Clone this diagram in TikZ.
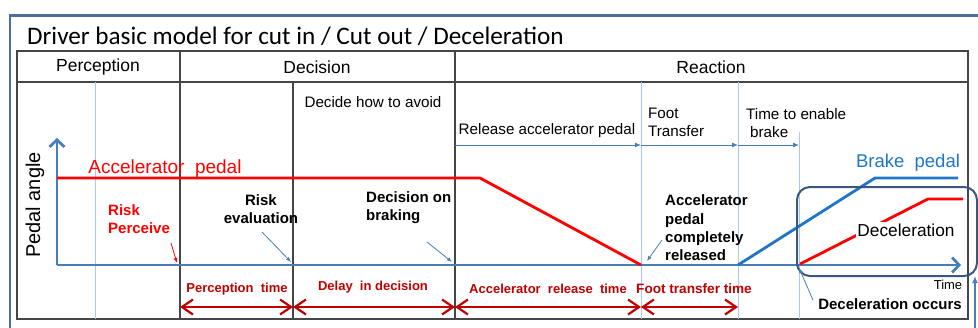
\documentclass[tikz,border=0pt]{standalone}
\usepackage{fontspec}
\setmainfont{Liberation Sans}
\newfontfamily\titlefont{Carlito}
\usetikzlibrary{arrows.meta}

\definecolor{frameblue}{RGB}{79,110,160}
\definecolor{axisblue}{RGB}{74,126,187}
\definecolor{guideblue}{RGB}{170,200,236}
\definecolor{brakeblue}{RGB}{30,118,200}
\definecolor{accred}{RGB}{255,0,0}
\definecolor{timered}{RGB}{192,0,0}
\definecolor{gridgray}{RGB}{70,70,70}
\definecolor{boxslate}{RGB}{60,86,124}

\tikzset{
  grid/.style={draw=gridgray, line width=1.4pt},
  guide/.style={draw=guideblue, line width=1pt},
  axis/.style={draw=axisblue, line width=2.8pt},
  phasearrow/.style={draw=axisblue, line width=0.9pt, -{Latex[length=6pt,width=5pt]}},
  note/.style={draw=axisblue, line width=0.8pt, -{Latex[length=5pt,width=4pt]}},
  timebar/.style={draw=timered, line width=2.2pt, {Straight Barb[length=11pt,width=15pt]}-{Straight Barb[length=11pt,width=15pt]}},
  head/.style={font=\fontsize{17.5}{20}\selectfont, inner sep=0pt},
  small/.style={font=\fontsize{15.2}{18}\selectfont, inner sep=0pt},
  boldlbl/.style={font=\bfseries\fontsize{15}{18.3}\selectfont, inner sep=0pt},
  timelbl/.style={font=\bfseries\fontsize{13}{15}\selectfont, text=timered, inner sep=0pt},
  curvelbl/.style={font=\fontsize{19}{21}\selectfont, inner sep=0pt},
}

\begin{document}
\begin{tikzpicture}[x=1pt,y=-1pt]
\useasboundingbox (0,0) rectangle (978,327);
\clip (0,0) rectangle (978,327);

% outer frame
\draw[frameblue, line width=2.6pt] (10,15.5) rectangle (1000,345);

% title
\node[anchor=base west, inner sep=0pt, font=\titlefont\fontsize{25.2}{28}\selectfont] (title) at (27,44.5)
  {Driver basic model for cut in / Cut out / Deceleration};

% table grid
\draw[grid] (17,51) rectangle (968,319);
\draw[grid] (17,82) -- (968,82);
\draw[grid] (180,51) -- (180,319);
\draw[grid] (455,51) -- (455,319);
\draw[grid] (293,82) -- (293,319);

% light guide lines
\draw[guide] (95,82) -- (95,319);
\draw[guide] (641,82) -- (641,319);
\draw[guide] (738,82) -- (738,319);
\draw[guide] (799,132) -- (799,319);

% phase headers
\node[head] (hperc) at (98,67) {Perception};
\node[head] (hdec)  at (317,67) {Decision};
\node[head] (hreac) at (711,67) {Reaction};

% sub-phase labels
\node[small] (avoid) at (373,102) {Decide how to avoid};
\node[small] (release) at (547,131) {Release accelerator pedal};
\node[small, align=left, anchor=north west] (foot) at (648,107.5) {Foot\\Transfer};
\node[small, align=left, anchor=north west] (enable) at (746,108) {Time to enable\\\hspace{4pt}brake};

\coordinate (p0) at (455,145);
\coordinate (p1) at (641,145);
\coordinate (p2) at (738,145);
\coordinate (p3) at (799,145);
\draw[phasearrow] (p0) -- (p1);
\draw[phasearrow] (p1) -- (p2);
\draw[phasearrow] (p2) -- (p3);

% axes
\coordinate (orig) at (57,265);
\coordinate (ytop) at (57,138);
\coordinate (xend) at (961,265);
\draw[axis, -{Straight Barb[length=7pt,width=15pt]}] (orig) -- (ytop);
\draw[axis, -{Straight Barb[length=7pt,width=15pt]}] (orig) -- (xend);
\node[font=\fontsize{20}{22}\selectfont, rotate=90, inner sep=0pt] (ylabel) at (35,205) {Pedal angle};
\node[font=\fontsize{13}{15}\selectfont, inner sep=0pt] (timelabel) at (948,285) {Time};

% accelerator pedal curve
\coordinate (a0) at (57,178);
\coordinate (a1) at (480,178);
\coordinate (a2) at (641,265);
\draw[accred, line width=2.8pt] (a0) -- (a1) -- (a2);
\node[curvelbl, text=accred] (acclbl) at (165,169) {Accelerator\ \ pedal};

% brake pedal curve
\coordinate (b0) at (738,265);
\coordinate (b1) at (875,178);
\coordinate (b2) at (958,178);
\draw[brakeblue, line width=2.8pt] (b0) -- (b1) -- (b2);
\node[curvelbl, font=\fontsize{18.5}{20}\selectfont, text=brakeblue] (brakelbl) at (908,163) {Brake\ \ pedal};

% deceleration curve and box
\coordinate (d0) at (800,264);
\coordinate (d1) at (928,199);
\coordinate (d2) at (963,199);
\draw[accred, line width=2.8pt] (d0) -- (d1) -- (d2);
\node[font=\fontsize{17.3}{20}\selectfont, fill=white, inner sep=1.5pt] (declbl) at (906,230) {Deceleration};
\node[draw=boxslate, line width=2pt, rounded corners=13pt, minimum width=180pt, minimum height=89pt] (decbox) at (887,231.5) {};

% event labels with pointers
\node[boldlbl, text=accred, align=left, anchor=west, fill=white, inner sep=1pt] (risk) at (107,219) {Risk\\Perceive};
\coordinate (riskpt) at (177,263);
\draw[accred, line width=0.8pt, -{Latex[length=5pt,width=4pt]}] (171,243) -- (riskpt);

\node[boldlbl, align=center] (evallbl) at (261,209) {Risk\\evaluation};
\coordinate (evalpt) at (291,262);
\draw[note] (262,232) -- (evalpt);

\node[boldlbl, align=left, anchor=west] (decision) at (366,208) {Decision on\\braking};
\coordinate (decpt) at (452,262);
\draw[note] (427,242) -- (decpt);

\node[boldlbl, align=left, anchor=west] (released) at (665,228) {Accelerator\\pedal\\completely\\released};
\coordinate (relpt) at (647,261);
\draw[note] (662,240) -- (relpt);

\node[boldlbl] (occurs) at (890,304) {Deceleration occurs};
\coordinate (occpt) at (799,268);
\draw[note] (813,300) -- (occpt);

% bottom-right pointer
\coordinate (brtail) at (975,332);
\coordinate (brtip) at (975,276);
\draw[draw=axisblue, line width=1.5pt, -{Latex[length=7pt,width=6pt]}] (brtail) -- (brtip);

% time intervals
\coordinate (t0) at (180,307);
\coordinate (t1) at (293,307);
\coordinate (t2) at (455,307);
\coordinate (t3) at (641,307);
\coordinate (t4) at (738,307);
\draw[timebar] (t0) -- (t1);
\draw[timebar] (t1) -- (t2);
\draw[timebar] (t2) -- (t3);
\draw[timebar] (t3) -- (t4);
\node[timelbl] (perctime) at (237,289) {Perception\ \ time};
\node[timelbl] (delaytime) at (373,287) {Delay\ \ in\ decision};
\node[timelbl] (reltime) at (548,289) {Accelerator\ \ release\ \ time};
\node[timelbl, font=\bfseries\fontsize{13.6}{15}\selectfont] (foottime) at (694,289) {Foot transfer time};
\end{tikzpicture}
\end{document}
